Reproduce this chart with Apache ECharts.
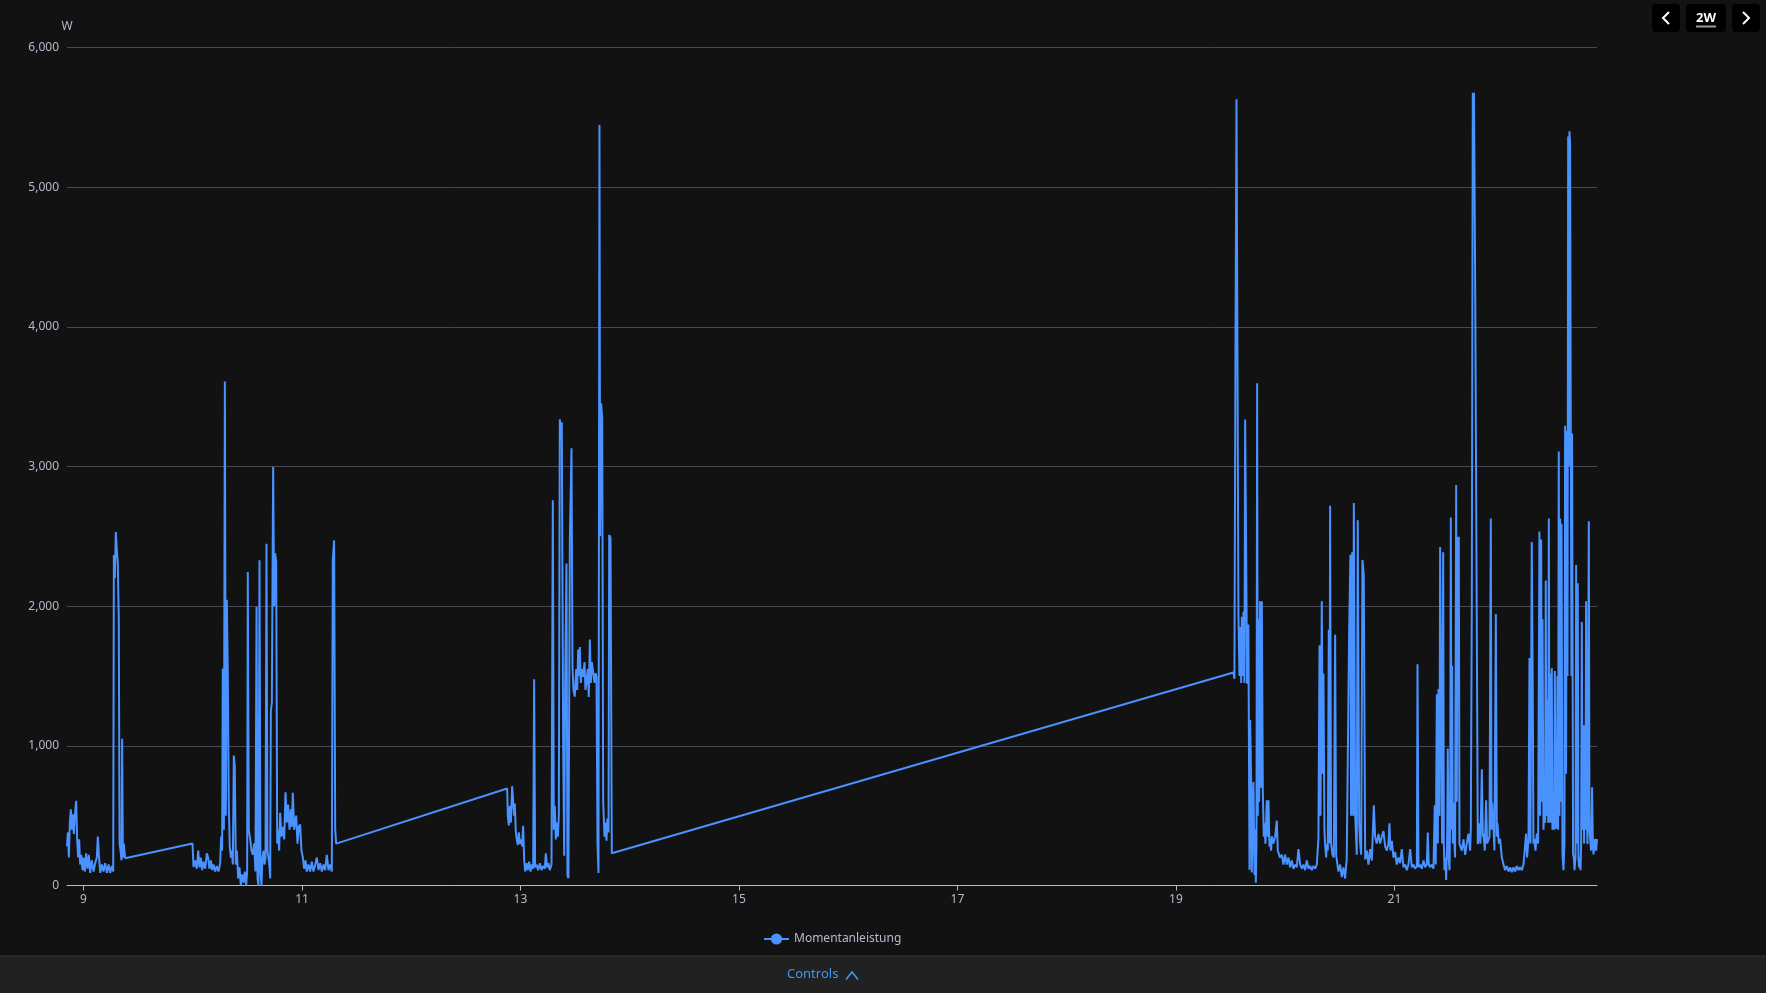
<!DOCTYPE html>
<html>
<head>
<meta charset="utf-8">
<script src="https://cdn.jsdelivr.net/npm/echarts@6/dist/echarts.min.js"></script>
<style>
  html, body { margin: 0; padding: 0; background: #121212; }
  #chart { width: 1766px; height: 993px; }
</style>
</head>
<body>
<div id="chart"></div>
<script>
// ---- data: [day of month (fractional), power in W] ----
const seriesName = 'Momentanleistung';
const unitName = 'W';
const xTickDays = [9, 11, 13, 15, 17, 19, 21];
const yTicks = [0, 1000, 2000, 3000, 4000, 5000, 6000];
const windowStartDay = 8.849;
const windowEndDay = 22.854;

const samplesDay9to11 = [
[8.849,280],[8.857,380],[8.866,200],[8.875,450],[8.884,546],[8.893,400],[8.902,510],[8.912,370],[8.921,500],[8.933,607],
[8.942,330],[8.951,200],[8.960,330],[8.969,150],[8.979,220],[8.991,110],[9.000,200],[9.012,100],[9.024,230],[9.037,120],
[9.049,220],[9.061,90],[9.076,180],[9.092,100],[9.107,160],[9.122,200],[9.131,350],[9.140,230],[9.153,90],[9.168,150],
[9.183,100],[9.198,160],[9.214,90],[9.229,150],[9.244,90],[9.259,140],[9.272,100],[9.278,2367],[9.287,2200],[9.296,2530],
[9.305,2400],[9.314,2306],[9.323,1905],[9.330,300],[9.339,250],[9.348,180],[9.354,1050],[9.360,200],[9.369,300],[9.381,195],
[9.998,300],[10.007,133],[10.022,180],[10.037,120],[10.050,250],[10.062,130],[10.074,200],[10.086,110],[10.098,170],[10.114,120],
[10.129,230],[10.141,200],[10.153,120],[10.166,180],[10.178,110],[10.190,150],[10.205,100],[10.220,140],[10.236,100],[10.251,160],
[10.260,350],[10.269,250],[10.275,1553],[10.285,400],[10.294,3609],[10.303,500],[10.312,2046],[10.321,1500],[10.330,570],[10.339,280],
[10.349,200],[10.358,250],[10.367,150],[10.376,930],[10.385,850],[10.394,150],[10.404,250],[10.416,50],[10.428,130],[10.440,0],
[10.452,80],[10.465,20],[10.477,100],[10.489,0],[10.498,100],[10.504,2245],[10.513,400],[10.526,330],[10.538,250],[10.550,220],
[10.562,300],[10.574,100],[10.584,1995],[10.593,50],[10.602,0],[10.611,2328],[10.620,100],[10.629,0],[10.638,200],[10.648,250],
[10.657,150],[10.666,200],[10.675,2447],[10.684,250],[10.693,200],[10.703,130],[10.709,50],[10.715,1250],[10.724,1310],[10.736,2998],
[10.745,2000],[10.754,2379],[10.764,2318],[10.773,300],[10.782,400],[10.791,250],[10.800,520],[10.812,350],[10.825,420],[10.837,330],
[10.849,667],[10.861,450],[10.873,580],[10.886,400],[10.898,546],[10.907,420],[10.916,663],[10.928,400],[10.937,450],[10.947,500],
[10.959,300],[10.971,420],[10.983,437],[10.995,250],[11.008,200],[11.020,120],[11.032,180],[11.044,100],[11.059,150],[11.075,100],
[11.090,170],[11.105,100],[11.121,150],[11.136,200],[11.151,110],[11.166,160],[11.182,100],[11.197,150],[11.212,110],[11.227,220],
[11.243,110],[11.258,150],[11.273,100],[11.282,2330],[11.294,2471],[11.304,400],[11.313,300]
];

const samplesDay13 = [
[12.878,694],[12.884,498],[12.893,430],[12.902,570],[12.912,450],[12.924,712],[12.933,600],[12.942,500],[12.948,587],[12.957,390],
[12.966,330],[12.976,290],[12.985,380],[12.994,300],[13.006,330],[13.015,280],[13.024,427],[13.034,180],[13.043,100],[13.055,160],
[13.067,110],[13.079,170],[13.092,100],[13.104,150],[13.116,120],[13.125,1477],[13.134,130],[13.146,150],[13.162,110],[13.177,160],
[13.192,110],[13.207,140],[13.223,120],[13.232,230],[13.244,130],[13.256,160],[13.268,110],[13.284,150],[13.296,2758],[13.305,400],
[13.314,570],[13.323,330],[13.333,450],[13.342,350],[13.351,500],[13.360,3338],[13.369,3200],[13.378,3317],[13.391,979],[13.400,213],
[13.409,1459],[13.421,2306],[13.430,71],[13.439,53],[13.452,2484],[13.467,3131],[13.476,1566],[13.485,1400],[13.497,1352],[13.510,1550],
[13.519,1400],[13.528,1690],[13.537,1500],[13.543,1708],[13.552,1450],[13.561,1550],[13.574,1495],[13.586,1600],[13.595,1400],[13.604,1459],
[13.616,1550],[13.625,1350],[13.635,1762],[13.644,1450],[13.653,1600],[13.665,1530],[13.677,1450],[13.687,1520],[13.696,1495],[13.705,300],
[13.714,89],[13.723,5445],[13.729,2500],[13.738,3452],[13.748,3345],[13.757,600],[13.769,350],[13.778,450],[13.787,320],[13.796,480],
[13.806,380],[13.812,2509],[13.824,2491],[13.836,231]
];

const samplesDay19to21 = [
[19.526,1525],[19.535,1480],[19.545,3902],[19.554,5629],[19.563,3791],[19.572,1924],[19.581,1500],[19.587,1850],[19.597,1450],[19.603,1924],
[19.612,1500],[19.618,1961],[19.627,1450],[19.633,3336],[19.642,2441],[19.651,1444],[19.663,1869],[19.673,113],[19.679,1185],[19.688,778],
[19.694,94],[19.703,500],[19.709,741],[19.719,76],[19.725,400],[19.731,20],[19.737,300],[19.743,3596],[19.749,500],[19.755,1906],
[19.761,600],[19.770,2035],[19.780,700],[19.786,2035],[19.795,667],[19.804,350],[19.810,445],[19.819,300],[19.831,611],[19.841,350],
[19.847,611],[19.856,280],[19.862,334],[19.871,250],[19.877,353],[19.892,300],[19.908,353],[19.923,464],[19.932,250],[19.938,261],
[19.953,200],[19.969,220],[19.984,150],[19.999,220],[20.014,150],[20.030,200],[20.045,130],[20.060,180],[20.075,120],[20.091,150],
[20.106,130],[20.121,260],[20.137,150],[20.152,120],[20.167,150],[20.182,110],[20.198,180],[20.213,120],[20.228,140],[20.243,110],
[20.259,140],[20.274,120],[20.289,150],[20.304,334],[20.314,1721],[20.323,500],[20.335,2035],[20.344,800],[20.350,1518],[20.359,400],
[20.365,297],[20.375,200],[20.381,297],[20.390,250],[20.399,1832],[20.405,300],[20.411,2719],[20.420,300],[20.433,220],[20.445,200],
[20.457,1795],[20.466,220],[20.478,150],[20.487,100],[20.503,150],[20.518,60],[20.533,130],[20.548,50],[20.563,187],[20.576,200],
[20.585,1813],[20.597,2368],[20.603,500],[20.613,2386],[20.622,500],[20.628,2738],[20.640,519],[20.655,220],[20.664,2616],[20.677,445],
[20.686,300],[20.695,220],[20.707,2331],[20.719,2220],[20.732,187],[20.747,250],[20.762,150],[20.777,260],[20.793,180],[20.811,575],
[20.823,350],[20.838,300],[20.854,370],[20.869,300],[20.884,350],[20.899,390],[20.915,280],[20.930,250],[20.945,300],[20.954,445],
[20.963,250],[20.976,320],[20.991,200],[21.006,240],[21.021,150],[21.037,200],[21.052,160]
];

const samplesDay21to22 = [
[21.067,260],[21.083,130],[21.098,150],[21.113,110],[21.128,150],[21.144,260],[21.159,130],[21.174,150],[21.189,120],[21.205,140],
[21.211,1584],[21.220,130],[21.235,150],[21.250,120],[21.266,180],[21.281,130],[21.296,150],[21.305,379],[21.314,150],[21.327,130],
[21.342,150],[21.357,120],[21.369,575],[21.378,150],[21.388,1370],[21.397,300],[21.403,1407],[21.412,500],[21.418,2424],[21.427,1400],
[21.436,300],[21.446,2386],[21.452,300],[21.458,110],[21.467,200],[21.473,40],[21.482,300],[21.488,981],[21.497,200],[21.504,110],
[21.510,500],[21.516,2634],[21.522,400],[21.528,1573],[21.534,300],[21.540,593],[21.549,297],[21.555,200],[21.565,2867],[21.571,600],
[21.577,2497],[21.583,2000],[21.589,2497],[21.595,300],[21.601,297],[21.616,250],[21.632,330],[21.647,220],[21.662,300],[21.677,371],
[21.693,250],[21.699,408],[21.708,2035],[21.717,5676],[21.722,5500],[21.728,5676],[21.735,5676],[21.740,4155],[21.748,4155],[21.757,4155],
[21.763,297],[21.772,350],[21.778,445],[21.787,300],[21.800,833],[21.809,350],[21.815,371],[21.827,250],[21.839,611],[21.848,300],
[21.861,297],[21.870,350],[21.882,2627],[21.888,400],[21.894,593],[21.906,430],[21.915,250],[21.928,1943],[21.937,350],[21.943,445],
[21.955,300],[21.967,334],[21.983,200],[21.998,150],[22.013,110],[22.028,140],[22.044,100],[22.059,130],[22.074,95],[22.089,130],
[22.105,100],[22.120,140],[22.135,110],[22.150,130],[22.166,110],[22.181,150],[22.196,140],[22.205,371],[22.214,200],[22.227,334],
[22.236,1629],[22.245,300],[22.257,2460],[22.266,1407],[22.272,300],[22.279,334],[22.291,250],[22.303,371],[22.315,300],[22.327,2534],
[22.333,500],[22.343,2478],[22.349,600],[22.355,1906],[22.364,400],[22.370,519],[22.379,450],[22.385,2183],[22.391,500],[22.398,1333],
[22.407,450],[22.413,2627],[22.419,450],[22.425,1518],[22.431,450],[22.440,1555],[22.446,400],[22.452,556],[22.462,400],[22.468,1536],
[22.474,450],[22.480,408],[22.486,450],[22.492,1499],[22.498,400],[22.504,3107],[22.510,500],[22.517,2627],[22.523,600],[22.529,2590],
[22.538,222],[22.547,110],[22.556,300],[22.562,3292],[22.571,800],[22.578,3255],[22.584,1500],[22.590,5362],[22.596,3000],[22.602,5400],
[22.608,5300],[22.614,3255],[22.620,1500],[22.626,3236],[22.635,222],[22.642,200],[22.648,110],[22.657,200],[22.663,2294],[22.669,300],
[22.678,2164],[22.684,200],[22.690,130],[22.697,200],[22.703,110],[22.709,300],[22.715,1887],[22.721,400],[22.730,1148],[22.736,300],
[22.742,1148],[22.748,400],[22.754,2035],[22.761,500],[22.767,297],[22.773,300],[22.779,2608],[22.785,400],[22.791,334],[22.800,250],
[22.809,704],[22.816,300],[22.822,222],[22.831,300],[22.837,334],[22.846,250],[22.854,334]
];

// ---- build ----
const DAY = 86400000;
const MONTH_START = Date.UTC(2025, 2, 1);
const toTs = d => MONTH_START + (d - 1) * DAY;
const allSamples = [].concat(samplesDay9to11, samplesDay13, samplesDay19to21, samplesDay21to22);
const lineData = allSamples.map(p => [toTs(p[0]), p[1]]);
const xTickTs = xTickDays.map(toTs);

const labelColor = '#B9B8CE';
const font = "'Noto Sans', 'Open Sans', sans-serif";

const chart = echarts.init(document.getElementById('chart'), null, { renderer: 'canvas' });
chart.setOption({
  backgroundColor: '#121212',
  animation: false,
  textStyle: { fontFamily: font },
  grid: { left: 67, right: 169, top: 47.5, bottom: 107.5, containLabel: false },
  legend: {
    left: 758, top: 928,
    itemWidth: 25, itemHeight: 14, itemGap: 10,
    textStyle: { color: labelColor, fontSize: 12, fontFamily: font },
    data: [seriesName]
  },
  xAxis: {
    type: 'value',
    min: toTs(windowStartDay),
    max: toTs(windowEndDay),
    axisLine: { show: true, onZero: false, lineStyle: { color: labelColor, width: 1 } },
    axisTick: { show: true, length: 5, lineStyle: { color: labelColor }, customValues: xTickTs },
    axisLabel: {
      color: labelColor, fontSize: 12, fontFamily: font, margin: 8,
      customValues: xTickTs,
      formatter: v => String(new Date(v).getUTCDate())
    },
    splitLine: { show: false }
  },
  yAxis: {
    type: 'value',
    min: yTicks[0], max: yTicks[yTicks.length - 1], interval: 1000,
    name: unitName,
    nameLocation: 'end',
    nameGap: 15,
    nameTextStyle: { color: labelColor, fontSize: 12, fontFamily: font },
    axisLine: { show: false },
    axisTick: { show: false },
    axisLabel: {
      color: labelColor, fontSize: 12, fontFamily: font, margin: 8,
      formatter: v => v.toLocaleString('en-US')
    },
    splitLine: { show: true, lineStyle: { color: '#484753', width: 1 } }
  },
  series: [{
    name: seriesName,
    type: 'line',
    data: lineData,
    showSymbol: false,
    symbol: 'circle',
    symbolSize: 8,
    color: '#4992ff',
    lineStyle: { width: 2, color: '#4992ff' }
  }],
  graphic: [
    { type: 'rect', shape: { x: 1652, y: 4, width: 28, height: 28, r: 4 }, style: { fill: '#000000' } },
    { type: 'polyline', shape: { points: [[1669, 12], [1663, 18], [1669, 24]] }, style: { stroke: '#ffffff', lineWidth: 2, fill: null } },
    { type: 'rect', shape: { x: 1686, y: 4, width: 40, height: 28, r: 4 }, style: { fill: '#000000' } },
    { type: 'text', x: 1706, y: 18, style: { text: '2W', fill: '#ffffff', font: "bold 13px 'Noto Sans', sans-serif", textAlign: 'center', textVerticalAlign: 'middle' } },
    { type: 'rect', shape: { x: 1696, y: 25.5, width: 20, height: 2 }, style: { fill: '#9a9a9a' } },
    { type: 'rect', shape: { x: 1732, y: 4, width: 28, height: 28, r: 4 }, style: { fill: '#000000' } },
    { type: 'polyline', shape: { points: [[1743, 12], [1749, 18], [1743, 24]] }, style: { stroke: '#ffffff', lineWidth: 2, fill: null } },
    { type: 'rect', shape: { x: 0, y: 956, width: 1766, height: 37 }, style: { fill: '#212121' } },
    { type: 'line', shape: { x1: 0, y1: 956, x2: 1766, y2: 956 }, style: { stroke: '#383838', lineWidth: 1 } },
    { type: 'text', x: 787, y: 974.5, style: { text: 'Controls', fill: '#3a9af5', font: "13px 'Noto Sans', sans-serif", textAlign: 'left', textVerticalAlign: 'middle' } },
    { type: 'polyline', shape: { points: [[846, 979.5], [852, 972], [858, 979.5]] }, style: { stroke: '#3a9af5', lineWidth: 1.6, fill: null } }
  ]
});
</script>
</body>
</html>
